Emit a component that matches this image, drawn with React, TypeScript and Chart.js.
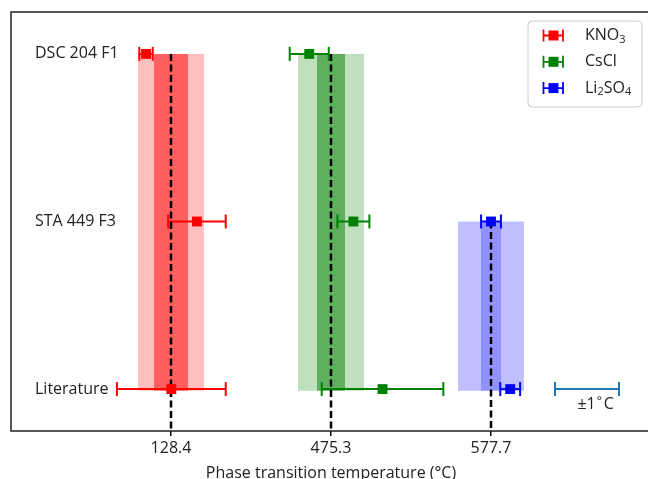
import React, { useEffect, useRef } from 'react';
import { Chart, registerables } from 'chart.js';

Chart.register(...registerables);

// ---- data ----
const categories = ['Literature', 'STA 449 F3', 'DSC 204 F1'];
const tickValues = [0, 5, 10];
const tickLabels = ['128.4', '475.3', '577.7'];
const materialLabels = ['KNO_3', 'CsCl', 'Li_2SO_4'];
const materialColors = ['#ff0000', '#008000', '#0000ff'];
const groupOffsets = [0, 5, 10];

// deviation from the transition temperature (°C), per category [Literature, STA, DSC]
const kno3Values = [0.01, 0.81, -0.78];
const kno3Errors = [1.7, 0.9, 0.21];
const csclValues = [1.61, 0.7, -0.68];
const csclErrors = [1.9, 0.5, 0.61];
const li2so4Values: (number | null)[] = [0.6, 0.0, null];
const li2so4Errors: (number | null)[] = [0.31, 0.31, null];

const seriesValues = [kno3Values, csclValues, li2so4Values];
const seriesErrors = [kno3Errors, csclErrors, li2so4Errors];

// shaded bands (half widths, °C) and their vertical extent (category index)
const outerBandHalf = [1.03, 1.03, 1.03];
const innerBandHalf = [0.53, 0.44, 0.32];
const bandTop = [2, 2, 1];
const bandBottom = [-0.01, -0.01, -0.01];
const innerAlpha = [0.5, 0.5, 0.24];

// scale bar (±1 °C)
const scaleBarCenter = 13;
const scaleBarHalf = 1;
const scaleBarY = 0;
const scaleBarLabel = ['±1', '°', 'C'];

const FONT = "'Open Sans', 'DejaVu Sans', sans-serif";
const TEXT = '#222222';

function rgba(hex: string, a: number) {
  const r = parseInt(hex.slice(1, 3), 16);
  const g = parseInt(hex.slice(3, 5), 16);
  const b = parseInt(hex.slice(5, 7), 16);
  return `rgba(${r},${g},${b},${a})`;
}

function drawSubText(ctx: CanvasRenderingContext2D, text: string, x: number, y: number, size: number) {
  let cx = x;
  for (let i = 0; i < text.length; i++) {
    if (text[i] === '_' && i + 1 < text.length) {
      ctx.font = `${Math.round(size * 0.7)}px ${FONT}`;
      ctx.fillText(text[i + 1], cx, y + size * 0.25);
      cx += ctx.measureText(text[i + 1]).width;
      i++;
    } else {
      ctx.font = `${size}px ${FONT}`;
      ctx.fillText(text[i], cx, y);
      cx += ctx.measureText(text[i]).width;
    }
  }
}

const framePlugin = {
  id: 'frame',
  afterDatasetsDraw(chart: any) {
    const { ctx, chartArea: a } = chart;
    ctx.save();
    ctx.strokeStyle = '#222';
    ctx.lineWidth = 1.5;
    ctx.strokeRect(a.left, a.top, a.right - a.left, a.bottom - a.top);
    ctx.restore();
  },
};

const annotPlugin = {
  id: 'annot',
  afterDraw(chart: any) {
    const { ctx } = chart;
    const xs = chart.scales.x;
    const ys = chart.scales.y;
    ctx.save();
    // scale bar label
    const sx = xs.getPixelForValue(scaleBarCenter - 0.3);
    const sy = ys.getPixelForValue(scaleBarY) + 15;
    ctx.fillStyle = TEXT;
    ctx.textBaseline = 'middle';
    ctx.textAlign = 'left';
    ctx.font = `16px ${FONT}`;
    ctx.fillText(scaleBarLabel[0], sx, sy);
    let cx = sx + ctx.measureText(scaleBarLabel[0]).width + 1;
    ctx.font = `12px ${FONT}`;
    ctx.fillText(scaleBarLabel[1], cx, sy - 3);
    cx += ctx.measureText(scaleBarLabel[1]).width + 2;
    ctx.font = `16px ${FONT}`;
    ctx.fillText(scaleBarLabel[2], cx, sy);

    // legend
    const bx = 528, by = 21, bw = 114, bh = 86;
    ctx.beginPath();
    ctx.roundRect(bx, by, bw, bh, 4);
    ctx.fillStyle = 'rgba(255,255,255,0.85)';
    ctx.fill();
    ctx.strokeStyle = '#cccccc';
    ctx.lineWidth = 1;
    ctx.stroke();
    materialLabels.forEach((lbl, i) => {
      const y = 35.5 + i * 26.3;
      const c = materialColors[i];
      ctx.strokeStyle = c;
      ctx.fillStyle = c;
      ctx.lineWidth = 1.8;
      ctx.beginPath();
      ctx.moveTo(543.5, y);
      ctx.lineTo(563, y);
      ctx.moveTo(543.5, y - 6);
      ctx.lineTo(543.5, y + 6);
      ctx.moveTo(563, y - 6);
      ctx.lineTo(563, y + 6);
      ctx.stroke();
      ctx.fillRect(548.5, y - 5, 10, 10);
      ctx.fillStyle = TEXT;
      ctx.textBaseline = 'middle';
      drawSubText(ctx, lbl, 585, y, 16);
    });
    ctx.restore();
  },
};

export default function App() {
  const ref = useRef<HTMLCanvasElement>(null);
  useEffect(() => {
    document.body.style.overflow = 'hidden';
    const datasets: any[] = [];
    // bands
    groupOffsets.forEach((off, i) => {
      const c = materialColors[i];
      datasets.push({
        type: 'line',
        data: [
          { x: off - outerBandHalf[i], y: bandTop[i] },
          { x: off + outerBandHalf[i], y: bandTop[i] },
        ],
        borderWidth: 0,
        borderColor: 'rgba(0,0,0,0)',
        pointRadius: 0,
        fill: { value: bandBottom[i] },
        backgroundColor: rgba(c, 0.25),
        order: 10,
      });
      datasets.push({
        type: 'line',
        data: [
          { x: off - innerBandHalf[i], y: bandTop[i] },
          { x: off + innerBandHalf[i], y: bandTop[i] },
        ],
        borderWidth: 0,
        borderColor: 'rgba(0,0,0,0)',
        pointRadius: 0,
        fill: { value: bandBottom[i] },
        backgroundColor: rgba(c, innerAlpha[i]),
        order: 9,
      });
    });
    // error bar lines with caps
    seriesValues.forEach((vals, i) => {
      const c = materialColors[i];
      vals.forEach((v, k) => {
        const e = seriesErrors[i][k];
        if (v === null || e === null) return;
        const x = groupOffsets[i] + v;
        datasets.push({
          type: 'line',
          data: [
            { x: x - e, y: k },
            { x: x + e, y: k },
          ],
          borderColor: c,
          borderWidth: 2,
          pointStyle: 'line',
          pointRotation: 90,
          pointRadius: 7,
          pointBorderColor: c,
          pointBorderWidth: 2,
          fill: false,
          order: 6,
        });
      });
    });
    // scale bar
    datasets.push({
      type: 'line',
      data: [
        { x: scaleBarCenter - scaleBarHalf, y: scaleBarY },
        { x: scaleBarCenter + scaleBarHalf, y: scaleBarY },
      ],
      borderColor: '#1f77b4',
      borderWidth: 2,
      pointStyle: 'line',
      pointRotation: 90,
      pointRadius: 7,
      pointBorderColor: '#1f77b4',
      pointBorderWidth: 2,
      fill: false,
      order: 6,
    });
    // dashed reference lines
    groupOffsets.forEach((off, i) => {
      datasets.push({
        type: 'line',
        data: [
          { x: off, y: bandTop[i] },
          { x: off, y: -0.25 },
        ],
        borderColor: '#000',
        borderWidth: 2.5,
        borderDash: [7, 3.5],
        pointRadius: 0,
        fill: false,
        order: 4,
      });
    });
    // markers
    seriesValues.forEach((vals, i) => {
      const c = materialColors[i];
      const pts = vals
        .map((v, k) => (v === null ? null : { x: groupOffsets[i] + v, y: k }))
        .filter((p) => p !== null);
      datasets.push({
        type: 'scatter',
        data: pts,
        pointStyle: 'rect',
        pointRadius: 7,
        pointBackgroundColor: c,
        pointBorderColor: c,
        pointBorderWidth: 0,
        showLine: false,
        order: 1,
      });
    });

    const chart = new Chart(ref.current!, {
      type: 'scatter',
      data: { datasets },
      options: {
        animation: false,
        responsive: false,
        devicePixelRatio: 1,
        events: [],
        layout: { padding: { left: 11, top: 12, right: 9, bottom: 0 } },
        plugins: { legend: { display: false }, tooltip: { enabled: false } },
        scales: {
          x: {
            type: 'linear',
            min: -5,
            max: 15,
            afterBuildTicks: (s: any) => {
              s.ticks = tickValues.map((v) => ({ value: v }));
            },
            afterFit: (s: any) => {
              s.height = 64;
              s.paddingLeft = 0;
              s.paddingRight = 0;
              s.paddingTop = 0;
              s.paddingBottom = 0;
            },
            ticks: {
              callback: (v: any) => tickLabels[tickValues.indexOf(Number(v))] ?? '',
              font: { family: FONT, size: 16 },
              color: TEXT,
              padding: 3,
              autoSkip: false,
              maxRotation: 0,
            },
            grid: {
              display: true,
              drawOnChartArea: false,
              drawTicks: true,
              tickLength: 5,
              color: '#000',
              lineWidth: 1.5,
            },
            border: { display: false },
            title: {
              display: true,
              text: 'Phase transition temperature (°C)',
              font: { family: FONT, size: 16 },
              color: TEXT,
              padding: { top: 0, bottom: 12 },
            },
          },
          y: {
            type: 'linear',
            min: -0.25,
            max: 2.25,
            afterBuildTicks: (s: any) => {
              s.ticks = categories.map((_, i) => ({ value: i }));
            },
            afterFit: (s: any) => {
              s.width = 0;
              s.paddingLeft = 0;
              s.paddingRight = 0;
              s.paddingTop = 0;
              s.paddingBottom = 0;
            },
            ticks: {
              mirror: true,
              padding: 24,
              callback: (v: any) => categories[Number(v)] ?? '',
              font: { family: FONT, size: 16 },
              color: TEXT,
              autoSkip: false,
            },
            grid: { display: false },
            border: { display: false },
          },
        },
      } as any,
      plugins: [framePlugin, annotPlugin],
    });
    return () => chart.destroy();
  }, []);

  return (
    <div style={{ position: 'absolute', left: 0, top: 0, width: 660, height: 495 }}>
      <canvas ref={ref} width={660} height={495} style={{ width: 660, height: 495, display: 'block' }} />
    </div>
  );
}
